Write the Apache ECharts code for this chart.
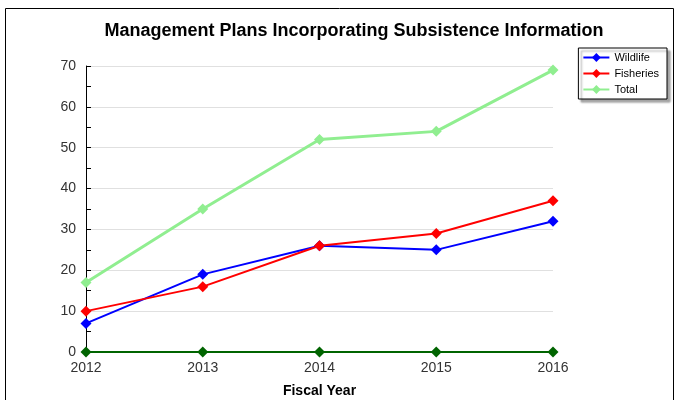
<!DOCTYPE html>
<html>
<head>
<meta charset="utf-8">
<script src="https://cdn.jsdelivr.net/npm/echarts@6/dist/echarts.min.js"></script>
<style>
  html, body { margin: 0; padding: 0; background: #fff; }
  #chart { width: 679px; height: 400px; }
</style>
</head>
<body>
<div id="chart"></div>
<script>
var years = ['2012', '2013', '2014', '2015', '2016'];
var wildlife = [7, 19, 26, 25, 32];
var fisheries = [10, 16, 26, 29, 37];
var total = [17, 35, 52, 54, 69];
var baseline = [0, 0, 0, 0, 0];

var myChart = echarts.init(document.getElementById('chart'));

function lineSeries(name, data, color, width) {
  return {
    name: name,
    type: 'line',
    data: data,
    symbol: 'diamond',
    symbolSize: 11,
    lineStyle: { color: color, width: width },
    itemStyle: { color: color },
    animation: false
  };
}

var option = {
  backgroundColor: '#fff',
  textStyle: { fontFamily: 'Liberation Sans, Arial, sans-serif' },
  title: {
    text: 'Management Plans Incorporating Subsistence Information',
    left: 349,
    textAlign: 'center',
    top: 17,
    textStyle: { fontSize: 18, fontWeight: 'bold', color: '#000' }
  },
  legend: {
    orient: 'vertical',
    right: 12,
    top: 48,
    data: ['Wildlife', 'Fisheries', 'Total'],
    itemWidth: 26,
    itemHeight: 11,
    itemGap: 5,
    padding: [4, 8, 4, 4],
    borderColor: '#000',
    borderWidth: 1,
    backgroundColor: '#fff',
    shadowColor: 'rgba(0,0,0,0.35)',
    shadowOffsetX: 3,
    shadowOffsetY: 3,
    shadowBlur: 2,
    textStyle: { fontSize: 11, color: '#000' }
  },
  grid: { left: 86, right: 126, top: 66, bottom: 48, outerBoundsMode: 'none' },
  xAxis: {
    type: 'category',
    data: years,
    boundaryGap: false,
    name: 'Fiscal Year',
    nameLocation: 'middle',
    nameGap: 32,
    nameTextStyle: { fontSize: 14, fontWeight: 'bold', color: '#000' },
    axisLine: { lineStyle: { color: '#000', width: 1 } },
    axisTick: { show: false },
    axisLabel: { fontSize: 14, color: '#333', margin: 9 }
  },
  yAxis: {
    type: 'value',
    min: 0,
    max: 70,
    interval: 10,
    axisLine: { show: true, lineStyle: { color: '#000' } },
    axisTick: { show: true, length: 5, inside: true, lineStyle: { color: '#000' } },
    minorTick: { show: true, splitNumber: 2, length: 5, lineStyle: { color: '#000' } },
    axisLabel: { fontSize: 14, color: '#333', margin: 10 },
    splitLine: { lineStyle: { color: '#e0e0e0' } }
  },
  series: [
    lineSeries('Baseline', baseline, '#006400', 2),
    lineSeries('Wildlife', wildlife, '#0000ff', 2),
    lineSeries('Fisheries', fisheries, '#ff0000', 2),
    lineSeries('Total', total, '#90ee90', 3)
  ],
  graphic: [{
    type: 'rect',
    shape: { x: 5.5, y: 8.5, width: 668, height: 400 },
    style: { fill: null, stroke: '#000', lineWidth: 1 },
    silent: true
  }]
};

myChart.setOption(option);
</script>
</body>
</html>
